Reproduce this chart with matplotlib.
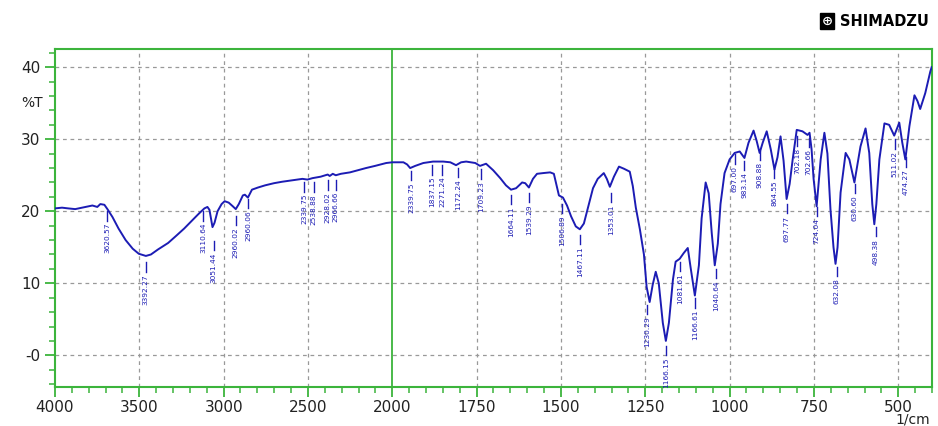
import numpy as np
import matplotlib
matplotlib.use('Agg')
import matplotlib.pyplot as plt
from matplotlib.ticker import FixedLocator, FixedFormatter

# spectrum (wavenumber 1/cm, %T)
wavenumber = [4000, 3958, 3922, 3880, 3820, 3778, 3749, 3731, 3707, 3689, 3659, 3623, 3581, 3539,
              3503, 3461, 3431, 3389, 3329, 3281, 3234, 3192, 3150, 3114, 3096, 3084, 3066, 3054,
              3036, 3012, 2994, 2970, 2946, 2928, 2910, 2886, 2874, 2856, 2832, 2796, 2754, 2701,
              2653, 2593, 2533, 2503, 2473, 2425, 2383, 2371, 2353, 2335, 2305, 2251, 2204, 2156,
              2102, 2036, 2000,
              1982, 1967, 1956, 1947, 1932, 1908, 1879, 1849, 1828, 1811, 1796, 1781, 1754, 1740,
              1722, 1701, 1680, 1663, 1648, 1633, 1615, 1606, 1595, 1583, 1571, 1553, 1532, 1521,
              1515, 1506, 1494, 1482, 1470, 1456, 1444, 1432, 1420, 1405, 1391, 1373, 1364, 1355,
              1343, 1328, 1313, 1296, 1287, 1278, 1266, 1254, 1246, 1237, 1228, 1219, 1210, 1198,
              1189, 1180, 1168, 1160, 1148, 1136, 1124, 1115, 1103, 1091, 1083, 1071, 1062, 1053,
              1044, 1035, 1027, 1015, 1000, 985, 970, 956, 944, 929, 920, 911, 902, 890, 878, 867,
              858, 849, 840, 831, 822, 813, 801, 784, 769, 763, 757, 751, 742, 730, 719, 710, 701,
              692, 686, 680, 671, 656, 645, 630, 612, 597, 586, 577, 571, 565, 556, 541, 527, 512,
              497, 488, 479, 467, 452, 443, 435, 420, 405, 401]
transmittance = [20.4, 20.5, 20.4, 20.3, 20.6, 20.8, 20.6, 21.0, 20.9, 20.3, 19.2, 17.6, 16.0, 14.8,
                 14.1, 13.8, 14.0, 14.7, 15.6, 16.6, 17.6, 18.6, 19.6, 20.4, 20.6, 20.2, 17.8, 18.4,
                 20.0, 21.0, 21.4, 21.2, 20.7, 20.3, 21.0, 22.2, 22.3, 21.9, 23.0, 23.3, 23.6, 23.9,
                 24.1, 24.3, 24.5, 24.4, 24.6, 24.8, 25.1, 24.9, 25.2, 25.0, 25.2, 25.4, 25.7, 26.0,
                 26.3, 26.7, 26.8,
                 26.8, 26.8, 26.5, 26.0, 26.3, 26.7, 26.9, 26.9, 26.8, 26.4, 26.8, 26.9, 26.7, 26.3,
                 26.6, 25.7, 24.6, 23.6, 23.0, 23.2, 24.0, 23.9, 23.3, 24.5, 25.2, 25.3, 25.4, 25.2,
                 24.0, 22.2, 21.9, 20.8, 19.3, 17.9, 17.5, 18.3, 20.5, 23.2, 24.5, 25.3, 24.5, 23.4,
                 24.8, 26.2, 25.9, 25.5, 23.5, 20.5, 17.5, 14.0, 9.5, 7.4, 9.8, 11.6, 10.0, 4.5,
                 2.0, 4.5, 10.5, 13.0, 13.4, 14.2, 14.9, 12.0, 8.3, 12.5, 19.0, 24.0, 22.5, 17.0,
                 12.5, 15.5, 21.0, 25.3, 27.2, 28.1, 28.3, 27.4, 29.5, 31.2, 29.8, 28.1, 29.5, 31.1, 28.6, 25.8,
                 27.5, 30.4, 27.0, 21.7, 23.8, 27.2, 31.3, 31.1, 30.6, 30.9, 28.6, 24.5, 20.7, 27.2, 30.9, 28.0, 20.3,
                 15.0, 12.7, 15.0, 22.6, 28.1, 27.2, 24.0, 29.0, 31.5, 28.1, 21.0, 18.2, 21.0, 27.2, 32.2, 32.0, 30.5,
                 32.3, 29.5, 27.2, 31.8, 36.1, 35.3, 34.2, 36.4, 39.4, 40.0]

# peak labels as printed on the chart, with where their marker sits
peak_text = ['3620.57', '3392.27', '3110.64', '3051.44', '2960.02', '2960.06', '2339.75', '2538.88',
             '2928.02', '2966.66', '2339.75', '1837.15', '2271.24', '1172.24', '1709.23', '1664.11',
             '1539.29', '1506.89', '1467.11', '1353.01', '1230.29', '1166.15', '1081.61', '1166.61',
             '1040.64', '697.00', '983.14', '908.88', '864.55', '697.77', '702.18', '702.66', '724.04',
             '632.08', '630.60', '498.38', '511.02', '474.27']
peak_x = [3689, 3461, 3120, 3060, 2928, 2856, 2521, 2467, 2383, 2335, 1944, 1882, 1852, 1805, 1737,
          1648, 1595, 1497, 1444, 1352, 1245, 1189, 1148, 1103, 1041, 985, 956, 911, 867, 831, 799,
          766, 742, 683, 629, 567, 511, 477]
peak_y = [20.0, 12.9, 20.0, 15.9, 19.4, 21.7, 24.0, 24.0, 24.3, 24.3, 25.6, 26.4, 26.4, 26.0, 25.8,
          22.3, 22.6, 21.0, 16.7, 22.6, 7.0, 1.3, 13.0, 7.9, 12.0, 27.9, 27.0, 28.4, 25.9, 21.0, 30.4,
          30.2, 20.6, 12.3, 23.8, 17.8, 30.0, 27.5]

yticks = [0, 10, 20, 30, 40]
ytick_labels = ['-0', '10', '20', '30', '40']
xticks = [4000, 3500, 3000, 2500, 2000, 1750, 1500, 1250, 1000, 750, 500]
xtick_labels = ['4000', '3500', '3000', '2500', '2000', '1750', '1500', '1250', '1000', '750', '500']

green = '#3cb43c'
blue = '#1c1cb4'


# left half (4000-2000) is drawn at half the scale of the right half
def fwd(x):
    x = np.asarray(x, dtype=float)
    return np.where(x >= 2000, x, 2 * x - 2000)


def inv(u):
    u = np.asarray(u, dtype=float)
    return np.where(u >= 2000, u, (u + 2000) / 2)


fig = plt.figure(figsize=(9.38, 4.26), dpi=100)
ax = fig.add_axes([0.0586, 0.0915, 0.935, 0.793])
ax.set_xscale('function', functions=(fwd, inv))
ax.set_xlim(4000, 400)
ax.set_ylim(-4.4, 42.5)

ax.plot(wavenumber, transmittance, color=blue, lw=1.4, zorder=3)

for t, x, y in zip(peak_text, peak_x, peak_y):
    ax.plot([x, x], [y, y - 1.3], color=blue, lw=1.0, zorder=3)
    ax.text(x, y - 1.6, t, rotation=90, ha='center', va='top', color=blue,
            fontsize=5.3, family=['Liberation Sans Narrow', 'DejaVu Sans'])

# grid
for gx in [3500, 3000, 2500, 1750, 1500, 1250, 1000, 750, 500]:
    ax.axvline(gx, color='#999999', lw=0.9, ls=(0, (3, 3)), zorder=1)
for gy in yticks:
    ax.axhline(gy, color='#999999', lw=0.9, ls=(0, (3, 3)), zorder=1)
ax.axvline(2000, color=green, lw=1.3, zorder=2)

ax.xaxis.set_major_locator(FixedLocator(xticks))
ax.xaxis.set_major_formatter(FixedFormatter(xtick_labels))
minor_x = list(range(4000, 2000, -100)) + list(range(2000, 399, -50))
ax.xaxis.set_minor_locator(FixedLocator(minor_x))
ax.yaxis.set_major_locator(FixedLocator(yticks))
ax.yaxis.set_major_formatter(FixedFormatter(ytick_labels))
ax.yaxis.set_minor_locator(FixedLocator(list(range(-4, 43, 2))))

ax.tick_params(which='both', colors=green, labelcolor='#222222', direction='out')
ax.tick_params(which='major', length=7, width=1.3, labelsize=11)
ax.tick_params(axis='x', which='major', pad=2)
ax.tick_params(which='minor', length=4, width=1.1)
for s in ax.spines.values():
    s.set_color(green)
    s.set_linewidth(1.5)

fig.text(0.023, 0.758, '%T', fontsize=10, color='#222222', ha='left', va='center')
fig.text(0.992, 0.016, '1/cm', fontsize=10, color='#222222', ha='right', va='center')

# instrument logo
fig.text(0.882, 0.950, '\u2295', fontsize=9.5, color='white', ha='center', va='center',
         fontweight='bold', bbox=dict(boxstyle='square,pad=0.1', fc='black', ec='black'))
fig.text(0.895, 0.950, 'SHIMADZU', fontsize=10.5, color='black', ha='left', va='center',
         fontweight='heavy')

fig.savefig('out.png', dpi=100)
